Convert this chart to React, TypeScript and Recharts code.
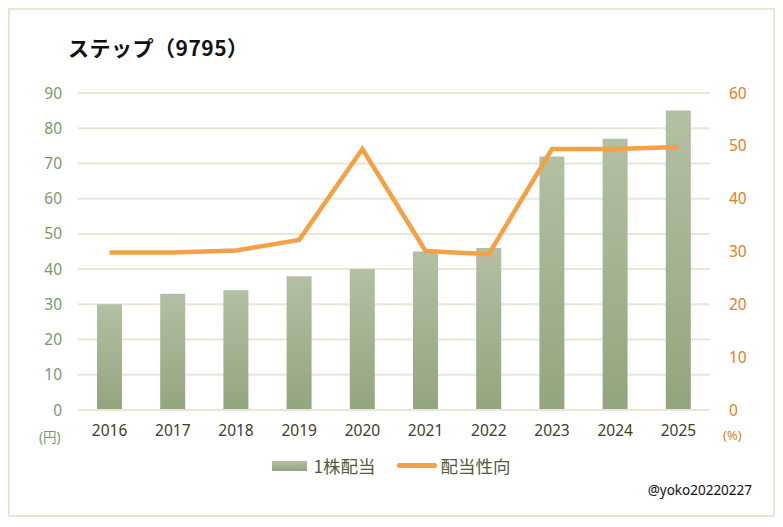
import React from "react";
import { ComposedChart, Bar, Line, XAxis, YAxis, CartesianGrid } from "recharts";

const years = ["2016", "2017", "2018", "2019", "2020", "2021", "2022", "2023", "2024", "2025"];
const dividend = [30, 33, 34, 38, 40, 45, 46, 72, 77, 85];
const payoutRatio = [29.8, 29.8, 30.2, 32.2, 49.4, 30.1, 29.5, 49.4, 49.4, 49.8];
const leftTicks = [0, 10, 20, 30, 40, 50, 60, 70, 80, 90];
const rightTicks = [0, 10, 20, 30, 40, 50, 60];

const data = years.map((year, i) => ({ year, dividend: dividend[i], payout: payoutRatio[i] }));

const font = "'Noto Sans', 'Noto Sans CJK JP', sans-serif";
const green = "#7d9866";
const orange = "#e2801c";

export default function App() {
  return (
    <div
      style={{
        position: "relative",
        width: 763,
        height: 505,
        border: "2px solid #e6e8d4",
        fontFamily: font,
        background: "#fff",
      }}
    >
      <div
        style={{
          position: "absolute",
          left: 58,
          top: 22,
          fontSize: 21,
          fontWeight: 700,
          color: "#111",
          fontFamily: "'Noto Sans CJK JP', sans-serif",
          letterSpacing: 0.5,
        }}
      >
        ステップ（9795）
      </div>
      <ComposedChart
        width={763}
        height={505}
        data={data}
        margin={{ top: 83, right: 0, left: 0, bottom: 75 }}
      >
        <defs>
          <linearGradient id="barFill" x1="0" y1="0" x2="0" y2="1">
            <stop offset="0%" stopColor="#b3c0a3" />
            <stop offset="100%" stopColor="#93a57e" />
          </linearGradient>
        </defs>
        <CartesianGrid vertical={false} stroke="#e6e8d6" strokeWidth={2} yAxisId="left" />
        <XAxis
          dataKey="year"
          axisLine={{ stroke: "#e6e8d6", strokeWidth: 2 }}
          tickLine={false}
          tickSize={0}
          tickMargin={15}
          height={30}
          tick={{ fontSize: 15.5, fill: "#404028", fontFamily: font }}
        />
        <YAxis
          yAxisId="left"
          orientation="left"
          domain={[0, 90]}
          ticks={leftTicks}
          width={68}
          axisLine={false}
          tickLine={false}
          tickSize={0}
          tickMargin={16}
          tick={{ fontSize: 15.5, fill: green, fontFamily: font }}
        />
        <YAxis
          yAxisId="right"
          orientation="right"
          domain={[0, 60]}
          ticks={rightTicks}
          width={63}
          axisLine={false}
          tickLine={false}
          tickSize={0}
          tickMargin={19}
          tick={{ fontSize: 15.5, fill: orange, fontFamily: font }}
        />
        <Bar yAxisId="left" dataKey="dividend" fill="url(#barFill)" barSize={25} isAnimationActive={false} />
        <Line
          yAxisId="right"
          dataKey="payout"
          type="linear"
          stroke="#f3a144"
          strokeWidth={4.5}
          dot={false}
          activeDot={false}
          isAnimationActive={false}
        />
      </ComposedChart>
      <div style={{ position: "absolute", left: 29, top: 416, fontSize: 13.5, color: green }}>(円)</div>
      <div style={{ position: "absolute", left: 713, top: 416, fontSize: 13, color: orange }}>(%)</div>
      <div
        style={{
          position: "absolute",
          left: 0,
          width: 763,
          top: 443,
          display: "flex",
          justifyContent: "center",
          alignItems: "center",
          fontSize: 17.5,
          color: "#595940",
          fontFamily: "'Noto Sans CJK JP', sans-serif",
        }}
      >
        <span style={{ display: "inline-block", width: 35, height: 10, background: "linear-gradient(#b3c0a3, #93a57e)", marginRight: 6 }} />
        <span style={{ marginRight: 21 }}>1株配当</span>
        <span style={{ display: "inline-block", width: 40, height: 5, borderRadius: 3, background: "#f3a144", marginRight: 4 }} />
        <span>配当性向</span>
      </div>
      <div style={{ position: "absolute", right: 21, top: 471, fontSize: 13.5, color: "#111" }}>@yoko20220227</div>
    </div>
  );
}
